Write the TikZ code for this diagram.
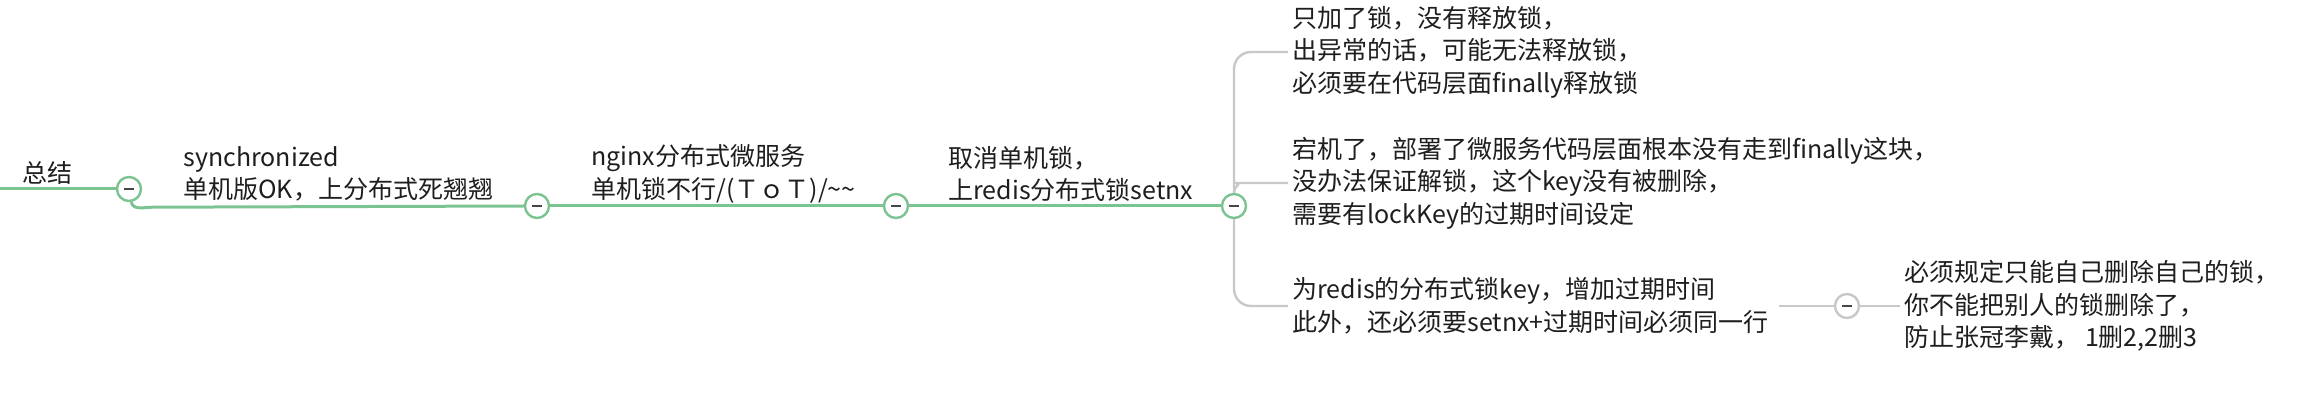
\documentclass[tikz,border=0pt]{standalone}
\usepackage{fontspec}
\setmainfont{Noto Sans CJK SC}
\usetikzlibrary{calc}
\definecolor{mapgreen}{RGB}{124,195,146}
\definecolor{mapgray}{RGB}{200,200,200}
\definecolor{mapink}{RGB}{30,30,30}
\definecolor{minusgray}{RGB}{70,70,70}
\newcommand{\foldsign}{\textcolor{minusgray}{\rule{5pt}{1.2pt}}}

\begin{document}
\begin{tikzpicture}[
        x=0.5pt, y=-0.5pt,
        font=\fontsize{12.5}{16.25}\selectfont, text=mapink,
        topic/.style={anchor=west, align=left, inner xsep=2pt, inner ysep=0pt},
        fold/.style={draw=mapgreen, line width=1.2pt, circle, fill=white,
            minimum size=12pt, inner sep=0pt},
        foldgray/.style={fold, draw=mapgray},
        mainline/.style={draw=mapgreen, line width=1.5pt},
        subline/.style={draw=mapgray, line width=1.2pt, rounded corners=8.5pt}]
        \useasboundingbox (0,0) rectangle (2299,406);
        % main branch
        \coordinate (start) at (0,189);
        \node[inner sep=0pt] (root) at (47,173) {总结};
        \node[fold] (c1) at (129,189) {\foldsign};
        \node[fold] (c2) at (537,206) {\foldsign};
        \node[fold] (c3) at (896,206) {\foldsign};
        \node[fold] (c4) at (1234,206) {\foldsign};
        \node[topic] (t1) at (179,174) {synchronized\\ 单机版OK，上分布式死翘翘};
        \node[topic] (t2) at (587,174) {nginx分布式微服务\\ 单机锁不行/(ＴｏＴ)/\textasciitilde\textasciitilde};
        \node[topic] (t3) at (944,174) {取消单机锁，\\ 上redis分布式锁setnx};
        % sub branches
        \node[topic] (g1) at (1288,52) {只加了锁，没有释放锁，\\ 出异常的话，可能无法释放锁，\\ 必须要在代码层面finally释放锁};
        \node[topic] (g2) at (1288,183) {宕机了，部署了微服务代码层面根本没有走到finally这块，\\ 没办法保证解锁，这个key没有被删除，\\ 需要有lockKey的过期时间设定};
        \node[topic] (g3) at (1288,306) {为redis的分布式锁key，增加过期时间\\ 此外，还必须要setnx+过期时间必须同一行};
        \node[foldgray] (c5) at (1847,306) {\foldsign};
        \node[topic] (r1) at (1900,306) {必须规定只能自己删除自己的锁，\\ 你不能把别人的锁删除了，\\ 防止张冠李戴， 1删2,2删3};
        \draw[mainline] (start) -- (c1.west);
        \draw[mainline] (c1.-80) to[out=-80,in=180] ($(c1.south)+(24,5)$) -- (c2.west);
        \draw[mainline] (c2.east) -- (c3.west);
        \draw[mainline] (c3.east) -- (c4.west);
        \draw[subline] (c4.north) |- (g1.west);
        \draw[subline] (c4.north) to[out=90,in=180] ($(c4.north |- g2.west)+(18,0)$) -- (g2.west);
        \draw[subline] (c4.south) |- (g3.west);
        \draw[subline] ([xshift=3pt]g3.east) -- (c5.west);
        \draw[subline] (c5.east) -- (r1.west);
    \end{tikzpicture}
\end{document}
